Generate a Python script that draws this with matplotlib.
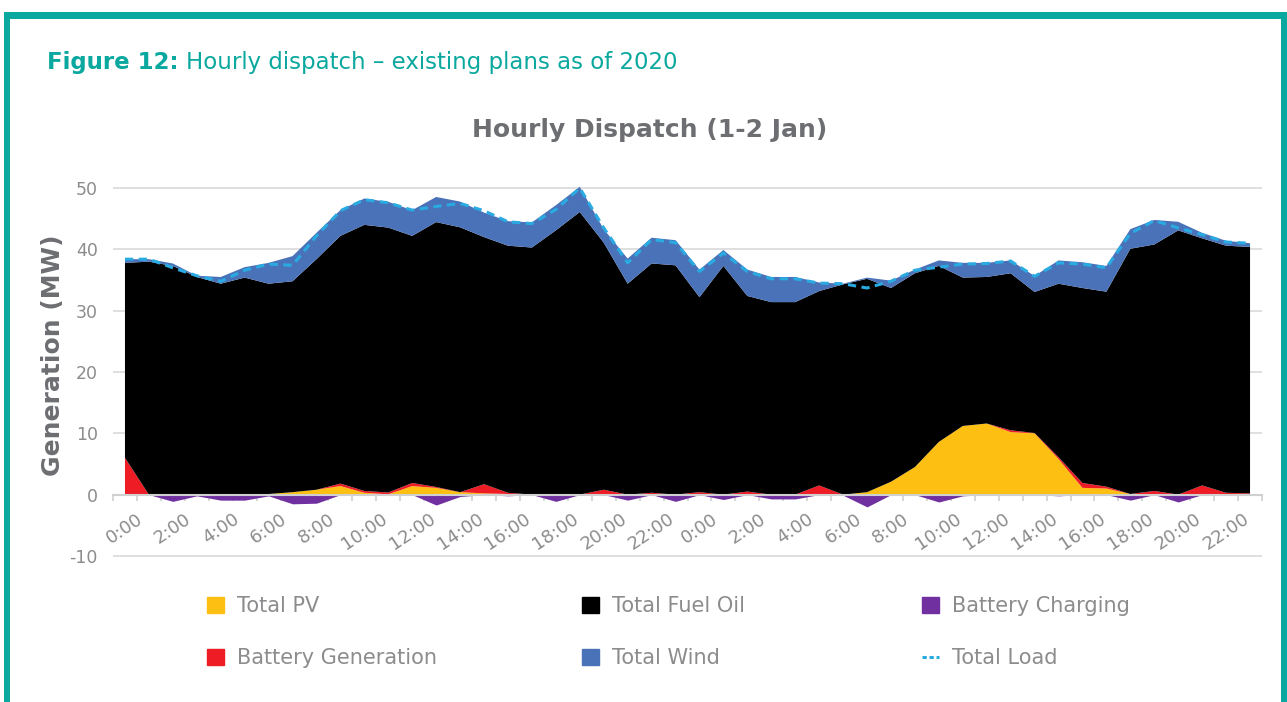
import numpy as np
import matplotlib.pyplot as plt
from matplotlib.patches import Patch, Rectangle
from matplotlib.lines import Line2D

plt.rcParams['axes.unicode_minus'] = False

# Hourly values, 1-2 Jan (48 hours), MW
pv = [0, 0, 0, 0, 0, 0, 0.1, 0.4, 0.8, 1.4, 0.3, 0.05,
      1.4, 1.1, 0.4, 0.2, 0.1, 0, 0, 0, 0, 0, 0, 0,
      0, 0, 0, 0, 0, 0, 0, 0.4, 2.1, 4.5, 8.6, 11.2,
      11.6, 10.2, 10.0, 5.8, 1.1, 1.0, 0.1, 0, 0, 0, 0, 0]
battery_gen = [6.0, 0, 0, 0, 0, 0, 0, 0, 0, 0.4, 0.3, 0.3,
               0.5, 0.15, 0, 1.5, 0.2, 0, 0, 0, 0.8, 0, 0.3, 0,
               0.4, 0, 0.5, 0, 0, 1.5, 0, 0, 0, 0, 0, 0,
               0, 0.3, 0.05, 0.3, 0.8, 0.3, 0, 0.6, 0, 1.5, 0.3, 0.2]
fuel_oil = [31.8, 38.0, 37.3, 35.5, 34.4, 35.4, 34.3, 34.4, 37.6, 40.4, 43.4, 43.2,
            40.3, 43.2, 43.2, 40.3, 40.3, 40.3, 43.1, 46.1, 40.3, 34.4, 37.4, 37.4,
            31.8, 37.3, 31.9, 31.4, 31.4, 31.7, 34.3, 34.8, 31.6, 31.6, 28.7, 24.2,
            23.9, 25.6, 23.0, 28.3, 31.8, 31.8, 40.0, 40.2, 43.1, 40.3, 40.3, 40.2]
wind = [0.6, 0.4, 0.4, 0.2, 1.1, 1.7, 3.4, 4.1, 4.3, 4.2, 4.3, 4.2,
        4.2, 4.1, 4.2, 4.0, 4.0, 4.1, 4.1, 4.1, 2.2, 4.1, 4.2, 4.1,
        4.5, 2.6, 4.3, 4.1, 4.1, 1.4, 0.1, 0.2, 1.2, 0.6, 0.9, 2.4,
        2.3, 2.1, 2.6, 3.8, 4.2, 4.2, 3.2, 4.0, 1.4, 0.9, 0.8, 0.6]
battery_charging = [0, 0, -1.1, -0.2, -0.9, -0.9, -0.2, -1.5, -1.4, 0, 0, 0,
                    0, -1.7, -0.3, 0, -0.2, 0, -1.1, 0, 0, -0.9, 0, -1.1,
                    0, -0.8, 0, -0.7, -0.7, 0, -0.1, -2.0, 0, 0, -1.2, -0.2,
                    0, 0, 0, -0.2, 0, 0, -0.9, 0, -1.2, 0, 0, 0]
total_load = [38.4, 38.4, 37.0, 35.7, 34.8, 36.6, 37.6, 37.4, 42.2, 46.3, 48.1, 47.6,
              46.4, 47.0, 47.5, 46.3, 44.5, 44.2, 46.5, 50.0, 43.5, 37.8, 41.6, 41.1,
              36.4, 39.4, 36.4, 35.2, 35.2, 34.5, 34.4, 33.7, 34.8, 36.6, 37.1, 37.6,
              37.7, 38.1, 35.6, 37.8, 37.6, 37.0, 42.6, 44.7, 43.5, 42.4, 41.2, 41.0]
tick_labels = ["0:00", "2:00", "4:00", "6:00", "8:00", "10:00", "12:00", "14:00",
               "16:00", "18:00", "20:00", "22:00",
               "0:00", "2:00", "4:00", "6:00", "8:00", "10:00", "12:00", "14:00",
               "16:00", "18:00", "20:00", "22:00"]

teal = '#0aa89e'
grey_txt = '#8c8c8e'
dark_grey = '#6d6e71'
c_pv = '#fdbf12'
c_fuel = '#000000'
c_chg = '#7030a0'
c_gen = '#ee1c25'
c_wind = '#4a72b8'
c_load = '#29abe2'

W, H = 1287, 702
fig = plt.figure(figsize=(W / 100, H / 100), dpi=100)

# teal frame
fig.add_artist(Rectangle((4 / W, 1 - 19 / H), 1 - 4 / W, 7 / H, transform=fig.transFigure,
                         color=teal, lw=0))
fig.add_artist(Rectangle((4 / W, 0), 6 / W, 1 - 12 / H, transform=fig.transFigure,
                         color=teal, lw=0))
fig.add_artist(Rectangle((1281 / W, 0), 6 / W, 1 - 12 / H, transform=fig.transFigure,
                         color=teal, lw=0))

ax = fig.add_axes([113 / W, 1 - 559 / H, 1149 / W, 374 / H])
x = np.arange(len(pv))

ax.stackplot(x, pv, battery_gen, fuel_oil, wind,
             colors=[c_pv, c_gen, c_fuel, c_wind], lw=0)
ax.fill_between(x, battery_charging, 0, color=c_chg, lw=0)
ax.plot(x, total_load, color=c_load, lw=2.2, dashes=(2.7, 1.8))

ax.set_xlim(-0.5, 47.5)
ax.set_ylim(-10.5, 50.5)
ax.set_yticks([-10, 0, 10, 20, 30, 40, 50])
ax.grid(axis='y', color='#d9d9d9', lw=1.2)
ax.set_axisbelow(True)
for s in ['top', 'right', 'left']:
    ax.spines[s].set_visible(False)
ax.spines['bottom'].set_position(('data', 0))
ax.spines['bottom'].set_color('#d0d0d0')
ax.spines['bottom'].set_linewidth(1.5)
ax.spines['bottom'].set_zorder(3)

ax.set_xticks(np.arange(0, 48, 2))
ax.set_xticklabels(tick_labels, rotation=34, ha='center', va='top')
ax.set_xticks(np.arange(-0.5, 48, 1), minor=True)
ax.tick_params(axis='x', which='major', length=0, pad=11, labelsize=13, labelcolor=grey_txt)
ax.tick_params(axis='x', which='minor', length=4, width=1.2, color='#d0d0d0')
ax.tick_params(axis='y', length=0, pad=11, labelsize=12.5, labelcolor=grey_txt)

# titles
t1 = fig.text(47 / W, 1 - 62 / H, "Figure 12:", fontsize=16.5, weight='bold',
              color=teal, va='center')
r = fig.canvas.get_renderer()
bb = t1.get_window_extent(r)
fig.text(bb.x1 / W + 8 / W, 1 - 62 / H, "Hourly dispatch \u2013 existing plans as of 2020",
         fontsize=16.5, color=teal, va='center')
fig.text(650 / W, 1 - 130 / H, "Hourly Dispatch (1-2 Jan)", fontsize=18, weight='bold',
         color=dark_grey, ha='center', va='center')
fig.text(53 / W, 1 - 355 / H, "Generation (MW)", fontsize=18, weight='bold',
         color=dark_grey, rotation=90, ha='center', va='center')

# legend, three columns
columns = [
    (207, [Patch(color=c_pv), Patch(color=c_gen)], ["Total PV", "Battery Generation"]),
    (582, [Patch(color=c_fuel), Patch(color=c_wind)], ["Total Fuel Oil", "Total Wind"]),
    (922, [Patch(color=c_chg), Line2D([], [], color=c_load, lw=2.2, dashes=(1.4, 0.9))],
     ["Battery Charging", "Total Load"]),
]
for xpos, handles, labels in columns:
    leg = fig.legend(handles, labels, loc='upper left', bbox_to_anchor=(xpos / W, 1 - 596 / H),
                     frameon=False, fontsize=15, borderpad=0, borderaxespad=0,
                     handlelength=0.82, handleheight=0.82, handletextpad=0.6,
                     labelspacing=1.55)
    for t in leg.get_texts():
        t.set_color(grey_txt)

plt.savefig('out.png', dpi=100)
plt.close()
